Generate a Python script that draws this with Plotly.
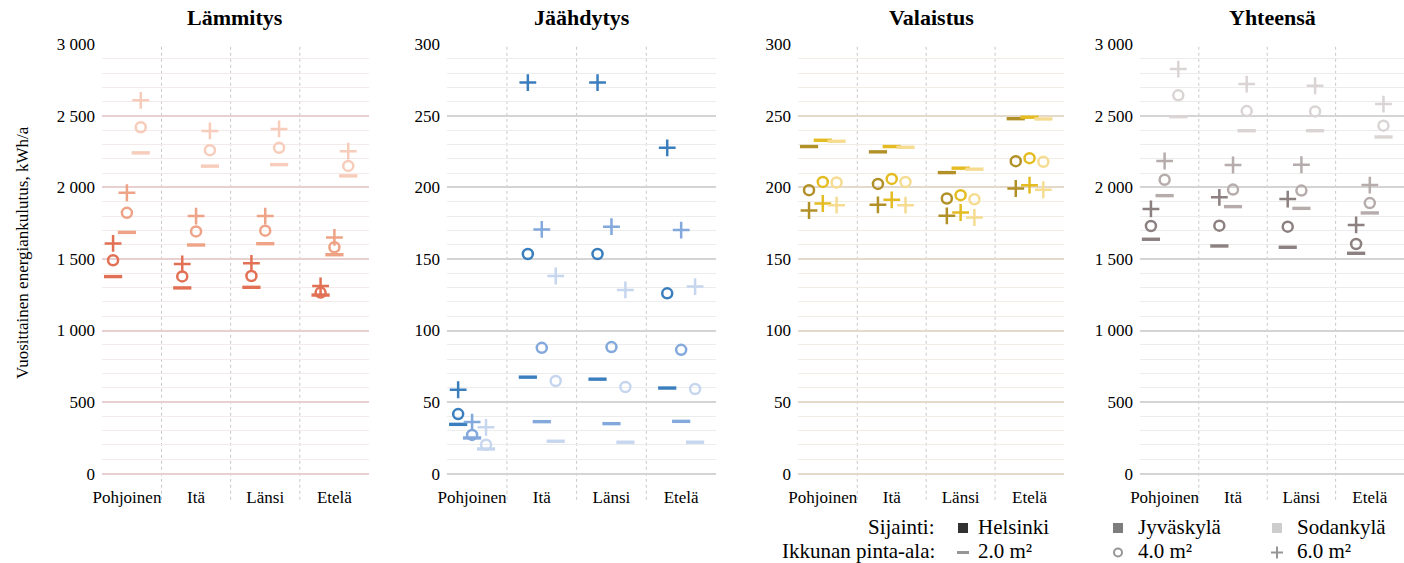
import plotly.graph_objects as go

# ---------------- data ----------------
regions = ["Pohjoinen", "Itä", "Länsi", "Etelä"]
cities = ["Helsinki", "Jyväskylä", "Sodankylä"]
window_labels = ["2.0 m²", "4.0 m²", "6.0 m²"]
panel_titles = ["Lämmitys", "Jäähdytys", "Valaistus", "Yhteensä"]

big_tickvals = [0, 500, 1000, 1500, 2000, 2500, 3000]
big_ticktext = ["0", "500", "1 000", "1 500", "2 000", "2 500", "3 000"]
small_tickvals = [0, 50, 100, 150, 200, 250, 300]
small_ticktext = ["0", "50", "100", "150", "200", "250", "300"]

# Lämmitys (heating), kWh/a, per region
lammitys_helsinki_2 = [1377, 1298, 1302, 1248]
lammitys_helsinki_4 = [1491, 1378, 1381, 1265]
lammitys_helsinki_6 = [1609, 1465, 1470, 1312]
lammitys_jyvaskyla_2 = [1686, 1598, 1607, 1530]
lammitys_jyvaskyla_4 = [1823, 1693, 1698, 1582]
lammitys_jyvaskyla_6 = [1963, 1800, 1800, 1651]
lammitys_sodankyla_2 = [2242, 2149, 2160, 2081]
lammitys_sodankyla_4 = [2421, 2261, 2277, 2151]
lammitys_sodankyla_6 = [2609, 2395, 2409, 2254]

# Jäähdytys (cooling)
jaahdytys_helsinki_2 = [34.4, 67.4, 66.0, 59.8]
jaahdytys_helsinki_4 = [41.6, 153.5, 153.5, 126.0]
jaahdytys_helsinki_6 = [58.6, 273.3, 273.3, 227.7]
jaahdytys_jyvaskyla_2 = [24.9, 36.3, 34.9, 36.5]
jaahdytys_jyvaskyla_4 = [27.0, 87.9, 88.4, 86.5]
jaahdytys_jyvaskyla_6 = [36.0, 170.7, 172.6, 170.2]
jaahdytys_sodankyla_2 = [17.2, 22.6, 21.9, 21.9]
jaahdytys_sodankyla_4 = [20.2, 64.7, 60.5, 59.1]
jaahdytys_sodankyla_6 = [32.3, 138.1, 128.4, 130.7]

# Valaistus (lighting)
valaistus_helsinki_2 = [228.6, 224.9, 210.4, 248.1]
valaistus_helsinki_4 = [198.1, 202.5, 192.3, 218.4]
valaistus_helsinki_6 = [183.9, 187.9, 180.2, 199.3]
valaistus_jyvaskyla_2 = [233.0, 228.6, 213.5, 249.1]
valaistus_jyvaskyla_4 = [203.9, 206.0, 194.6, 220.5]
valaistus_jyvaskyla_6 = [188.8, 191.4, 182.5, 201.6]
valaistus_sodankyla_2 = [232.3, 228.1, 212.8, 247.9]
valaistus_sodankyla_4 = [203.5, 203.9, 191.8, 217.9]
valaistus_sodankyla_6 = [187.6, 187.6, 179.0, 198.4]

# Yhteensä (total)
yhteensa_helsinki_2 = [1638, 1591, 1582, 1540]
yhteensa_helsinki_4 = [1731, 1733, 1726, 1605]
yhteensa_helsinki_6 = [1850, 1931, 1919, 1738]
yhteensa_jyvaskyla_2 = [1943, 1866, 1854, 1822]
yhteensa_jyvaskyla_4 = [2054, 1985, 1978, 1891]
yhteensa_jyvaskyla_6 = [2185, 2157, 2159, 2017]
yhteensa_sodankyla_2 = [2495, 2397, 2397, 2353]
yhteensa_sodankyla_4 = [2644, 2534, 2532, 2432]
yhteensa_sodankyla_6 = [2828, 2723, 2711, 2583]

panel_data = [
    [[lammitys_helsinki_2, lammitys_helsinki_4, lammitys_helsinki_6],
     [lammitys_jyvaskyla_2, lammitys_jyvaskyla_4, lammitys_jyvaskyla_6],
     [lammitys_sodankyla_2, lammitys_sodankyla_4, lammitys_sodankyla_6]],
    [[jaahdytys_helsinki_2, jaahdytys_helsinki_4, jaahdytys_helsinki_6],
     [jaahdytys_jyvaskyla_2, jaahdytys_jyvaskyla_4, jaahdytys_jyvaskyla_6],
     [jaahdytys_sodankyla_2, jaahdytys_sodankyla_4, jaahdytys_sodankyla_6]],
    [[valaistus_helsinki_2, valaistus_helsinki_4, valaistus_helsinki_6],
     [valaistus_jyvaskyla_2, valaistus_jyvaskyla_4, valaistus_jyvaskyla_6],
     [valaistus_sodankyla_2, valaistus_sodankyla_4, valaistus_sodankyla_6]],
    [[yhteensa_helsinki_2, yhteensa_helsinki_4, yhteensa_helsinki_6],
     [yhteensa_jyvaskyla_2, yhteensa_jyvaskyla_4, yhteensa_jyvaskyla_6],
     [yhteensa_sodankyla_2, yhteensa_sodankyla_4, yhteensa_sodankyla_6]],
]

# ---------------- styling ----------------
W, H = 1404, 563
MT, MB = 44, 89
FONT = "Liberation Serif, Times New Roman, serif"

palettes = [
    ["rgb(226,112,84)", "rgb(238,162,134)", "rgb(247,204,186)"],
    ["rgb(58,126,190)", "rgb(130,168,220)", "rgb(198,214,238)"],
    ["rgb(178,144,40)", "rgb(228,188,34)", "rgb(245,220,145)"],
    ["rgb(140,128,128)", "rgb(182,172,172)", "rgb(218,212,212)"],
]
major_grid = ["rgb(232,208,208)", "rgb(212,212,212)", "rgb(228,218,204)", "rgb(212,212,212)"]
minor_grid = ["rgb(243,234,234)", "rgb(236,236,236)", "rgb(241,237,230)", "rgb(236,236,236)"]

panel_px = [(102, 369), (447, 716), (798, 1064), (1140, 1404)]
city_offsets = [-0.2, 0.0, 0.2]
symbols = ["line-ew", "circle-open", "cross-thin"]
sym_size = [13, 10, 12]
sym_lw = [3.4, 2.5, 2.5]

fig = go.Figure()
shapes = []
annotations = []

for p in range(4):
    ax = "" if p == 0 else str(p + 1)
    for c in range(3):
        for s in range(3):
            vals = panel_data[p][c][s]
            col = palettes[p][c]
            fig.add_trace(go.Scatter(
                x=[i + city_offsets[c] for i in range(len(regions))],
                y=vals,
                mode="markers",
                marker=dict(symbol=symbols[s], size=sym_size[s], color=col,
                            line=dict(color=col, width=sym_lw[s])),
                xaxis="x" + ax, yaxis="y" + ax,
                showlegend=False, cliponaxis=False,
                name=f"{cities[c]} {window_labels[s]}",
            ))
    x0, x1 = panel_px[p]
    big = p in (0, 3)
    fig.update_layout(**{
        "xaxis" + ax: dict(
            domain=[x0 / W, x1 / W], range=[-0.36, 3.5], anchor="y" + ax,
            tickmode="array", tickvals=list(range(len(regions))), ticktext=regions,
            showgrid=False, zeroline=False, showline=False, ticks="",
            tickfont=dict(family=FONT, size=17, color="black"),
            ticklabelstandoff=11,
        ),
        "yaxis" + ax: dict(
            domain=[0, 1], anchor="x" + ax,
            range=[-3, 3003] if big else [-0.3, 300.3],
            tickmode="array",
            tickvals=big_tickvals if big else small_tickvals,
            ticktext=big_ticktext if big else small_ticktext,
            showgrid=True, gridcolor=major_grid[p], gridwidth=1.6,
            minor=dict(tickmode="linear", tick0=0, dtick=100 if big else 10,
                       showgrid=True, gridcolor=minor_grid[p], gridwidth=1, ticks=""),
            zeroline=True, zerolinecolor=major_grid[p], zerolinewidth=2,
            showline=False, ticks="",
            tickfont=dict(family=FONT, size=17, color="black"),
            ticklabelstandoff=6,
        ),
    })
    for k in (0.5, 1.5, 2.5):
        shapes.append(dict(type="line", xref="x" + ax, yref="y" + ax + " domain",
                           x0=k, x1=k, y0=-0.06, y1=1, layer="below",
                           line=dict(color="rgb(200,200,200)", width=1, dash="dot")))
    annotations.append(dict(
        text="<b>" + panel_titles[p] + "</b>", xref="paper", yref="paper",
        x=(x0 + x1) / 2 / W, y=(474 - 17) / 430,
        xanchor="center", yanchor="middle", showarrow=False,
        font=dict(family=FONT, size=22, color="black"),
    ))

# y-axis title
annotations.append(dict(
    text="Vuosittainen energiankulutus, kWh/a", xref="paper", yref="paper",
    x=22 / W, y=(474 - 253) / 430, textangle=-90, showarrow=False,
    xanchor="center", yanchor="middle",
    font=dict(family=FONT, size=17, color="black"),
))

# legend (drawn manually)
def py(pix):
    return (474 - pix) / 430

row1, row2 = 527, 550.5
leg_font = dict(family=FONT, size=21, color="black")
annotations.append(dict(text="Sijainti:", xref="paper", yref="paper", x=937 / W, y=py(row1),
                        xanchor="right", yanchor="middle", showarrow=False, font=leg_font))
annotations.append(dict(text="Ikkunan pinta-ala:", xref="paper", yref="paper", x=937 / W, y=py(row2),
                        xanchor="right", yanchor="middle", showarrow=False, font=leg_font))
leg_sym_x = [963, 1118, 1277]
leg_txt_x = [976, 1136, 1295]
square_cols = ["rgb(50,50,50)", "rgb(125,125,125)", "rgb(205,205,205)"]
for j in range(3):
    annotations.append(dict(text=cities[j], xref="paper", yref="paper", x=leg_txt_x[j] / W, y=py(row1),
                            xanchor="left", yanchor="middle", showarrow=False, font=leg_font))
    annotations.append(dict(text=window_labels[j], xref="paper", yref="paper", x=leg_txt_x[j] / W, y=py(row2),
                            xanchor="left", yanchor="middle", showarrow=False, font=leg_font))
    sx = leg_sym_x[j]
    shapes.append(dict(type="rect", xref="paper", yref="paper",
                       x0=(sx - 5) / W, x1=(sx + 5) / W, y0=py(row1 + 6), y1=py(row1 - 4),
                       fillcolor=square_cols[j], line=dict(width=0)))
legend_grey = "rgb(150,150,150)"
# 2.0 m² : dash
shapes.append(dict(type="line", xref="paper", yref="paper",
                   x0=(leg_sym_x[0] - 6) / W, x1=(leg_sym_x[0] + 6) / W, y0=py(row2 + 2), y1=py(row2 + 2),
                   line=dict(color=legend_grey, width=3)))
# 4.0 m² : ring
shapes.append(dict(type="circle", xref="paper", yref="paper",
                   x0=(leg_sym_x[1] - 4) / W, x1=(leg_sym_x[1] + 4) / W, y0=py(row2 + 6), y1=py(row2 - 2),
                   line=dict(color=legend_grey, width=2)))
# 6.0 m² : plus
shapes.append(dict(type="line", xref="paper", yref="paper",
                   x0=(leg_sym_x[2] - 6) / W, x1=(leg_sym_x[2] + 6) / W, y0=py(row2 + 2), y1=py(row2 + 2),
                   line=dict(color=legend_grey, width=2)))
shapes.append(dict(type="line", xref="paper", yref="paper",
                   x0=leg_sym_x[2] / W, x1=leg_sym_x[2] / W, y0=py(row2 + 8), y1=py(row2 - 4),
                   line=dict(color=legend_grey, width=2)))

fig.update_layout(
    width=W, height=H,
    margin=dict(l=0, r=0, t=MT, b=MB),
    template="none",
    paper_bgcolor="white", plot_bgcolor="white",
    shapes=shapes, annotations=annotations,
    font=dict(family=FONT, color="black"),
    showlegend=False,
)

fig.write_html("out.html",
               config={"displayModeBar": False},
               post_script="document.body.style.margin='0px';document.body.style.overflow='hidden';")
